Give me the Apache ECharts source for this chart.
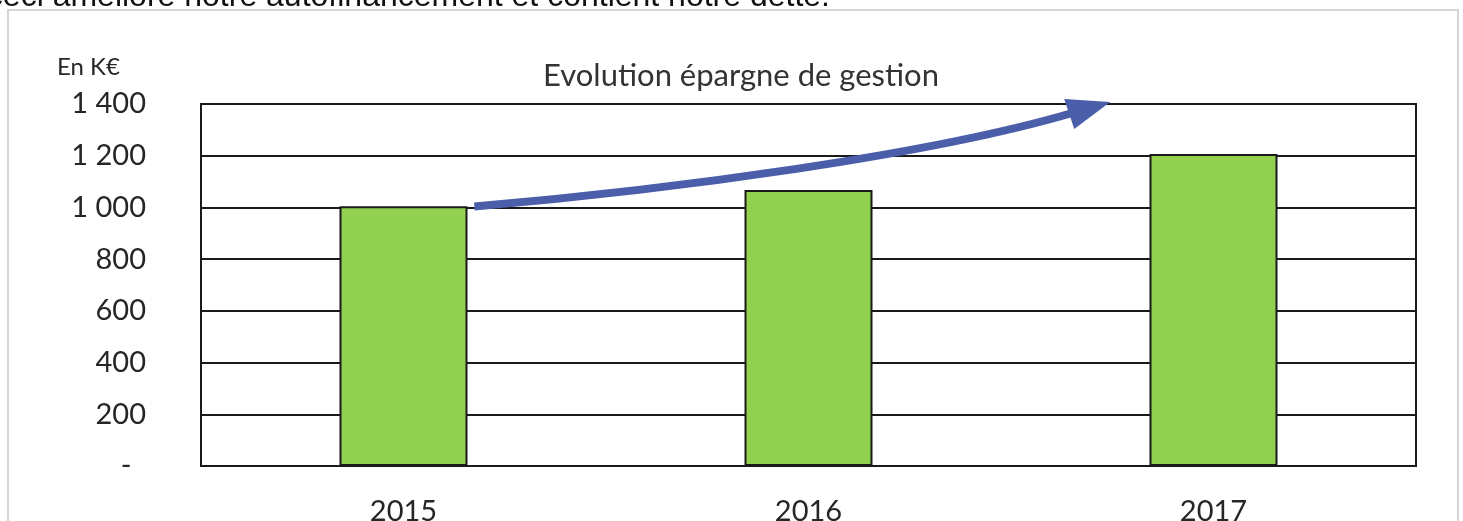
<!DOCTYPE html>
<html>
<head>
<meta charset="utf-8">
<script src="https://cdn.jsdelivr.net/npm/echarts@6/dist/echarts.min.js"></script>
<style>
html,body{margin:0;padding:0;background:#fff;}
#c{width:1463px;height:521px;}
</style>
</head>
<body>
<div id="c"></div>
<script>
// ---- data ----
const categories = ['2015', '2016', '2017'];
const values = [1005, 1067, 1207];
const yMin = 0, yMax = 1400, yInterval = 200;
const titleText = 'Evolution épargne de gestion';
const unitText = 'En K€';
const introText = 'ceci améliore notre autofinancement et contient notre dette.';

function fmt(v) {
  if (v === 0) return '-\u2002';
  return String(v).replace(/\B(?=(\d{3})+(?!\d))/g, ' ');
}

const chart = echarts.init(document.getElementById('c'), null, {renderer: 'canvas'});
const FONT = 'Lato';
chart.setOption({
  animation: false,
  backgroundColor: '#ffffff',
  title: {
    text: titleText,
    left: 736,
    textAlign: 'center',
    top: 55,
    textStyle: {fontFamily: FONT, fontSize: 31, fontWeight: 'normal', color: '#333333'}
  },
  grid: {
    left: 201, right: 47, top: 104, bottom: 55,
    outerBoundsMode: 'none', containLabel: false,
    show: true, borderColor: '#1a1a1a', borderWidth: 2, backgroundColor: 'transparent'
  },
  xAxis: {
    type: 'category',
    data: categories,
    axisTick: {show: false},
    axisLine: {show: true, lineStyle: {color: '#1a1a1a', width: 2}},
    axisLabel: {fontFamily: FONT, fontSize: 29, color: '#262626', margin: 31}
  },
  yAxis: {
    type: 'value',
    min: yMin, max: yMax, interval: yInterval,
    axisLine: {show: false},
    axisTick: {show: false},
    splitLine: {show: true, lineStyle: {color: '#1a1a1a', width: 2}},
    axisLabel: {fontFamily: FONT, fontSize: 29, color: '#262626', margin: 55, formatter: fmt}
  },
  series: [{
    type: 'bar',
    data: values,
    barWidth: 128,
    itemStyle: {color: '#92d050', borderColor: '#1a1a1a', borderWidth: 2}
  }]
});

// decorations anchored to the axes
const p0 = chart.convertToPixel({gridIndex: 0}, [categories[0], values[0]]);
const p1 = chart.convertToPixel({gridIndex: 0}, [categories[1], yMax]);
const band = p1[0] - p0[0];
const y1000 = chart.convertToPixel({gridIndex: 0}, [categories[0], 1000])[1];
const yTop = p1[1];

const S = [p0[0] + 0.175 * band, y1000 - 1];
const tip = [p1[0] + 0.745 * band, yTop - 2];
const E = [tip[0] - 38, tip[1] + 11];
const C1 = [S[0] + 200, S[1] - 17];
const C2 = [E[0] - 143, E[1] + 42];

chart.setOption({
  graphic: [
    {type: 'rect', z: -10, shape: {x: 8, y: 10, width: 1450, height: 540},
     style: {fill: 'none', stroke: '#d6d6d6', lineWidth: 2}},
    {type: 'text', x: 830, y: 13,
     style: {text: introText, align: 'right', verticalAlign: 'bottom',
             font: '32px "Liberation Sans", Arial, sans-serif', fill: '#111'}},
    {type: 'text', x: 57, y: 55,
     style: {text: unitText, align: 'left', verticalAlign: 'top',
             font: '24px Lato', fill: '#262626'}},
    {type: 'bezierCurve', z: 10,
     shape: {x1: S[0], y1: S[1], x2: E[0], y2: E[1],
             cpx1: C1[0], cpy1: C1[1], cpx2: C2[0], cpy2: C2[1]},
     style: {stroke: '#4b5eaa', lineWidth: 8, fill: 'none'}},
    {type: 'polygon', z: 11,
     shape: {points: [[tip[0], tip[1]], [tip[0] - 46, tip[1] - 3], [tip[0] - 36, tip[1] + 27]]},
     style: {fill: '#4b5eaa'}}
  ]
});
</script>
</body>
</html>
